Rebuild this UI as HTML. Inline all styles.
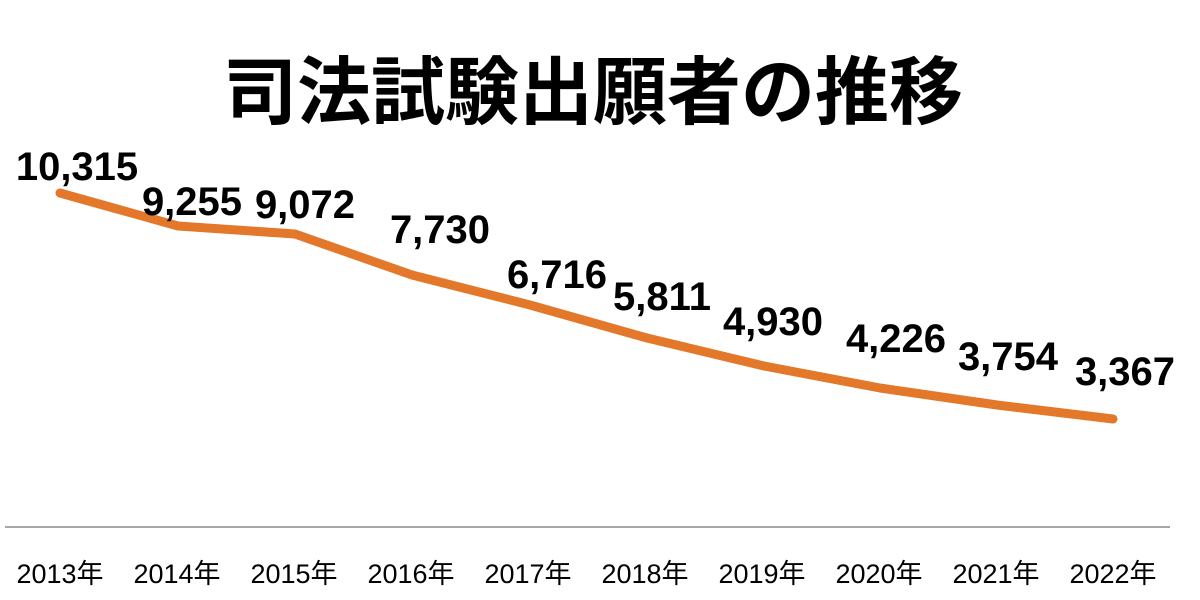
<!DOCTYPE html>
<html><head><meta charset="utf-8"><style>
html,body{margin:0;padding:0;background:#fff;}
svg{display:block}
</style></head><body>
<svg width="1200" height="600" xmlns="http://www.w3.org/2000/svg">
<text x="593" y="118" text-anchor="middle" font-family="'Noto Sans CJK JP',sans-serif" font-weight="bold" font-size="74" fill="#000">司法試験出願者の推移</text>
<line x1="5" y1="527" x2="1170" y2="527" stroke="#a6a6a6" stroke-width="2"/>
<polyline fill="none" stroke="#e4782a" stroke-width="9" stroke-linecap="round" stroke-linejoin="round"
points="60,193 178,226 295,234 412,275 530,305 647,338 764,366 880,388 997,405 1113,419"/>
<g font-family="'Liberation Sans',sans-serif" font-weight="bold" font-size="40" fill="#000" text-anchor="middle">
<text x="77" y="180">10,315</text>
<text x="192" y="215">9,255</text>
<text x="305" y="218">9,072</text>
<text x="440" y="243">7,730</text>
<text x="557" y="288">6,716</text>
<text x="662" y="310">5,811</text>
<text x="773" y="335">4,930</text>
<text x="896" y="352">4,226</text>
<text x="1008" y="370">3,754</text>
<text x="1125" y="385">3,367</text>
</g>
<g font-family="'Liberation Sans','Noto Sans CJK JP',sans-serif" font-size="27" fill="#000" text-anchor="middle">
<text x="60" y="583">2013年</text>
<text x="177" y="583">2014年</text>
<text x="294" y="583">2015年</text>
<text x="411" y="583">2016年</text>
<text x="528" y="583">2017年</text>
<text x="645" y="583">2018年</text>
<text x="762" y="583">2019年</text>
<text x="879" y="583">2020年</text>
<text x="996" y="583">2021年</text>
<text x="1113" y="583">2022年</text>
</g>
</svg>
</body></html>
